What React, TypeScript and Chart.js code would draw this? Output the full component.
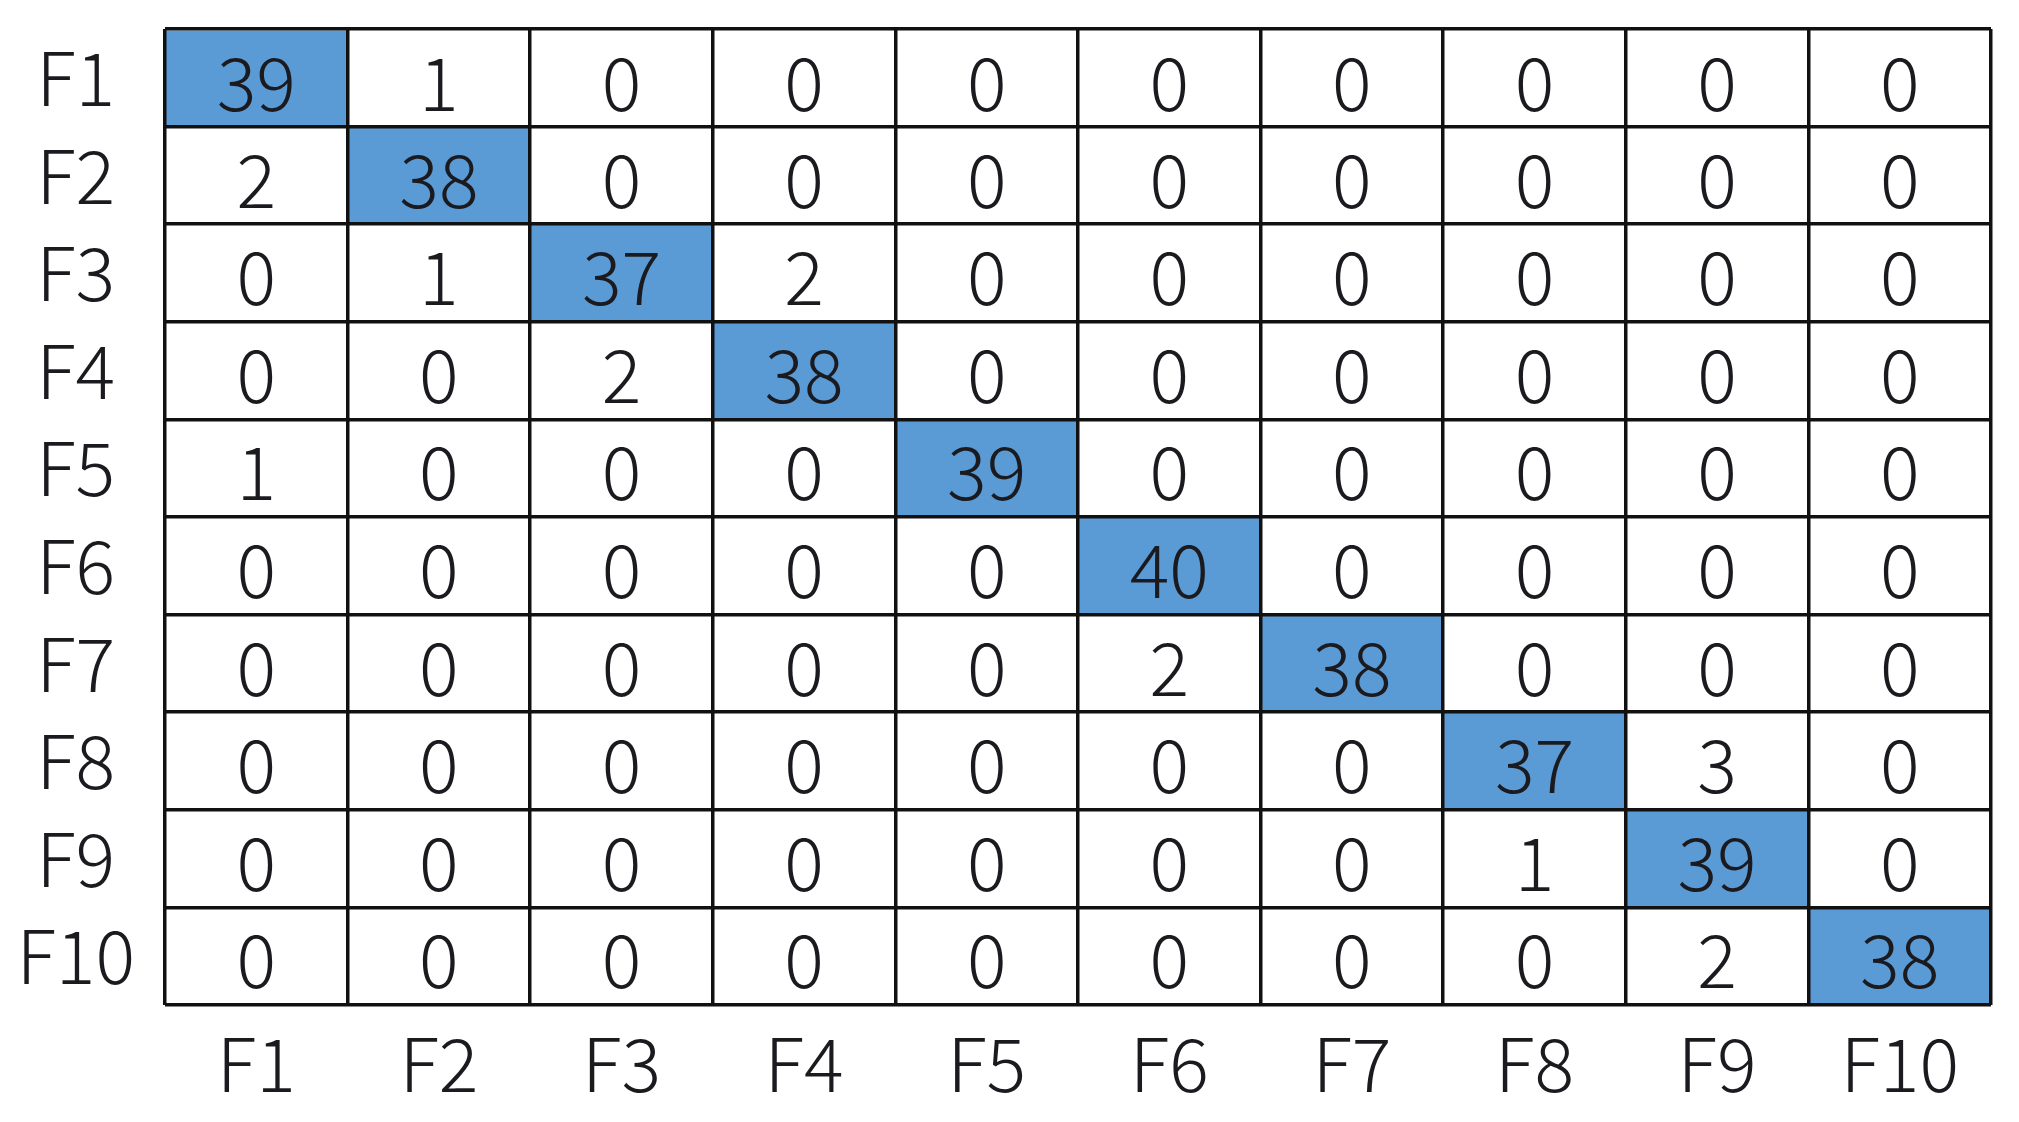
import React, { useEffect, useRef } from "react";
import { Chart, registerables } from "chart.js";

Chart.register(...registerables);

const classLabels = ["F1", "F2", "F3", "F4", "F5", "F6", "F7", "F8", "F9", "F10"];

const rowF1 = [39, 1, 0, 0, 0, 0, 0, 0, 0, 0];
const rowF2 = [2, 38, 0, 0, 0, 0, 0, 0, 0, 0];
const rowF3 = [0, 1, 37, 2, 0, 0, 0, 0, 0, 0];
const rowF4 = [0, 0, 2, 38, 0, 0, 0, 0, 0, 0];
const rowF5 = [1, 0, 0, 0, 39, 0, 0, 0, 0, 0];
const rowF6 = [0, 0, 0, 0, 0, 40, 0, 0, 0, 0];
const rowF7 = [0, 0, 0, 0, 0, 2, 38, 0, 0, 0];
const rowF8 = [0, 0, 0, 0, 0, 0, 0, 37, 3, 0];
const rowF9 = [0, 0, 0, 0, 0, 0, 0, 1, 39, 0];
const rowF10 = [0, 0, 0, 0, 0, 0, 0, 0, 2, 38];

const matrix = [rowF1, rowF2, rowF3, rowF4, rowF5, rowF6, rowF7, rowF8, rowF9, rowF10];

const FONT = "'Noto Sans CJK SC', 'Noto Sans', sans-serif";
const WEIGHT = "300";
const BLUE = "#5B9BD5";
const LINE = "#111111";
const TEXT = "#1a1a1f";

export default function App() {
  const ref = useRef<HTMLCanvasElement | null>(null);

  useEffect(() => {
    document.body.style.margin = "0";
    const canvas = ref.current;
    if (!canvas) return;

    const datasets = matrix.map((row, r) => ({
      label: classLabels[r],
      data: row.map(() => [r, r + 1]),
      values: row,
      backgroundColor: row.map((_, c) => (c === r ? BLUE : "#ffffff")),
      borderWidth: 0,
      barPercentage: 1,
      categoryPercentage: 1,
      grouped: false,
      xAxisID: "x",
      yAxisID: "yGrid",
    }));

    const cellText = {
      id: "cellText",
      afterDatasetsDraw(chart: any) {
        const ctx = chart.ctx;
        ctx.save();
        ctx.font = `${WEIGHT} 74px ${FONT}`;
        ctx.fillStyle = TEXT;
        ctx.textAlign = "center";
        ctx.textBaseline = "middle";
        chart.data.datasets.forEach((ds: any, di: number) => {
          const meta = chart.getDatasetMeta(di);
          meta.data.forEach((el: any, i: number) => {
            const cy = (el.y + el.base) / 2;
            ctx.fillText(String(ds.values[i]), el.x, cy + 4);
          });
        });
        ctx.restore();
      },
    };

    const chart = new Chart(canvas, {
      type: "bar",
      data: { labels: classLabels, datasets: datasets as any },
      options: {
        animation: false,
        responsive: true,
        maintainAspectRatio: false,
        layout: { padding: { top: 29, left: 0, right: 0, bottom: 0 } },
        plugins: { legend: { display: false }, tooltip: { enabled: false } },
        scales: {
          x: {
            type: "category",
            position: "bottom",
            offset: true,
            grid: { offset: true, color: LINE, lineWidth: 3.5, drawTicks: false, z: 1 },
            border: { display: false },
            ticks: {
              color: TEXT,
              font: { family: FONT, size: 74, weight: WEIGHT as any },
              padding: 14,
              maxRotation: 0,
              autoSkip: false,
            },
            afterFit(scale: any) {
              scale.height = 117;
              scale.paddingLeft = 0;
              scale.paddingRight = 0;
            },
          },
          yGrid: {
            type: "linear",
            position: "right",
            reverse: true,
            min: 0,
            max: 10,
            grid: { color: LINE, lineWidth: 3.5, drawTicks: false, z: 1 },
            border: { display: false },
            ticks: { display: false, stepSize: 1 },
            afterFit(scale: any) {
              scale.width = 28;
              scale.paddingTop = 0;
              scale.paddingBottom = 0;
            },
          },
          yLabels: {
            type: "category",
            position: "left",
            labels: classLabels,
            offset: true,
            grid: { display: false },
            border: { display: false },
            ticks: {
              color: TEXT,
              crossAlign: "center",
              padding: 22,
              font: { family: FONT, size: 74, weight: WEIGHT as any },
              autoSkip: false,
            },
            afterFit(scale: any) {
              scale.width = 165;
              scale.paddingTop = 0;
              scale.paddingBottom = 0;
            },
          },
        },
      },
      plugins: [cellText],
    });

    return () => chart.destroy();
  }, []);

  return (
    <div style={{ position: "relative", width: "2019px", height: "1122px" }}>
      <canvas ref={ref} />
    </div>
  );
}
